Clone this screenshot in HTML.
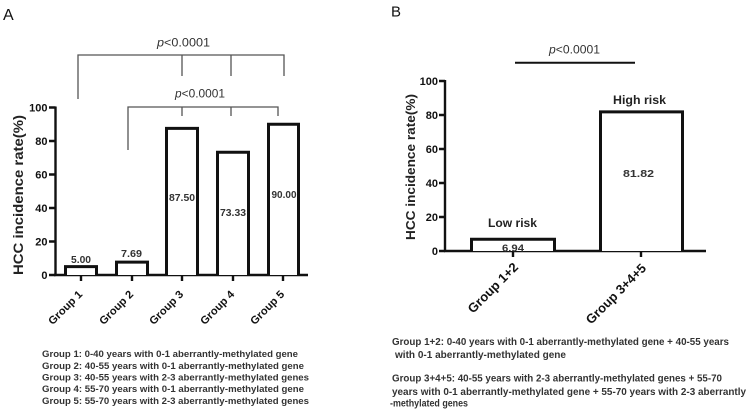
<!DOCTYPE html>
<html><head><meta charset="utf-8"><style>
html,body{margin:0;padding:0;background:#fff;}
svg{display:block;}
text{font-family:"Liberation Sans",Arial,sans-serif;}
</style></head><body>
<svg width="748" height="410" viewBox="0 0 748 410" xmlns="http://www.w3.org/2000/svg">
<rect width="748" height="410" fill="#fff"/>
<!-- Panel A -->
<text x="3" y="20" font-size="16" fill="#111">A</text>
<g stroke="#555" stroke-width="1.3" fill="none">
<path d="M78 99 V55 H284 V76"/>
<path d="M182 55 V76 M231 55 V76"/>
<path d="M128 150 V107 H278 V116"/>
<path d="M182 107 V116 M231 107 V116"/>
</g>
<text x="183.5" y="46.5" font-size="12" text-anchor="middle" fill="#333" textLength="53" lengthAdjust="spacingAndGlyphs"><tspan font-style="italic">p</tspan>&lt;0.0001</text>
<text x="200" y="97.5" font-size="12" text-anchor="middle" fill="#333" textLength="50" lengthAdjust="spacingAndGlyphs"><tspan font-style="italic">p</tspan>&lt;0.0001</text>
<text transform="translate(23,195) rotate(-90)" font-size="14" font-weight="bold" text-anchor="middle" fill="#222" textLength="160" lengthAdjust="spacingAndGlyphs">HCC incidence rate(%)</text>
<g stroke="#111" stroke-width="2.4" fill="none">
<path d="M55.5 106.5 V276 M54 275 H308"/>
<path d="M49 107.5 H55.5 M49 141 H55.5 M49 174.5 H55.5 M49 208 H55.5 M49 241.5 H55.5 M49 275 H55.5"/>
<path d="M81 275 V281 M132 275 V281 M182 275 V281 M233 275 V281 M283 275 V281"/>
</g>
<g font-size="11" font-weight="bold" text-anchor="end" fill="#111">
<text x="47.5" y="111.5">100</text>
<text x="47.5" y="145">80</text>
<text x="47.5" y="178.5">60</text>
<text x="47.5" y="212">40</text>
<text x="47.5" y="245.5">20</text>
<text x="47.5" y="279">0</text>
</g>
<g stroke="#111" stroke-width="3" fill="#fff">
<path d="M65.5 275 V266.6 H96.5 V275"/>
<path d="M116.5 275 V262.1 H147.5 V275"/>
<path d="M166.5 275 V128.4 H197.5 V275"/>
<path d="M217.5 275 V152.2 H248.5 V275"/>
<path d="M268.5 275 V124.3 H298.5 V275"/>
</g>
<g font-size="10" font-weight="bold" text-anchor="middle" fill="#333">
<text x="81" y="263" textLength="20" lengthAdjust="spacingAndGlyphs">5.00</text>
<text x="131.5" y="257" textLength="21" lengthAdjust="spacingAndGlyphs">7.69</text>
<text x="182" y="201" textLength="26" lengthAdjust="spacingAndGlyphs">87.50</text>
<text x="233" y="216" textLength="26" lengthAdjust="spacingAndGlyphs">73.33</text>
<text x="284" y="198" textLength="25" lengthAdjust="spacingAndGlyphs">90.00</text>
</g>
<g font-size="11" font-weight="bold" text-anchor="end" fill="#111">
<text transform="translate(83,295) rotate(-45)" textLength="43" lengthAdjust="spacingAndGlyphs">Group 1</text>
<text transform="translate(134,295) rotate(-45)" textLength="43" lengthAdjust="spacingAndGlyphs">Group 2</text>
<text transform="translate(184,295) rotate(-45)" textLength="43" lengthAdjust="spacingAndGlyphs">Group 3</text>
<text transform="translate(235,295) rotate(-45)" textLength="43" lengthAdjust="spacingAndGlyphs">Group 4</text>
<text transform="translate(285,295) rotate(-45)" textLength="43" lengthAdjust="spacingAndGlyphs">Group 5</text>
</g>
<g font-size="9.5" font-weight="bold" fill="#333">
<text x="42" y="357" textLength="256" lengthAdjust="spacingAndGlyphs">Group 1: 0-40 years with 0-1 aberrantly-methylated gene</text>
<text x="42" y="369" textLength="262" lengthAdjust="spacingAndGlyphs">Group 2: 40-55 years with 0-1 aberrantly-methylated gene</text>
<text x="42" y="380.5" textLength="267" lengthAdjust="spacingAndGlyphs">Group 3: 40-55 years with 2-3 aberrantly-methylated genes</text>
<text x="42" y="392" textLength="262" lengthAdjust="spacingAndGlyphs">Group 4: 55-70 years with 0-1 aberrantly-methylated gene</text>
<text x="42" y="404" textLength="267" lengthAdjust="spacingAndGlyphs">Group 5: 55-70 years with 2-3 aberrantly-methylated genes</text>
</g>

<!-- Panel B -->
<text x="391" y="16.5" font-size="15" fill="#111">B</text>
<path d="M515 62.7 H635" stroke="#111" stroke-width="2"/>
<text x="574.5" y="53.5" font-size="12" text-anchor="middle" fill="#333" textLength="51" lengthAdjust="spacingAndGlyphs"><tspan font-style="italic">p</tspan>&lt;0.0001</text>
<text transform="translate(415,167) rotate(-90)" font-size="13" font-weight="bold" text-anchor="middle" fill="#222" textLength="146" lengthAdjust="spacingAndGlyphs">HCC incidence rate(%)</text>
<g stroke="#111" stroke-width="2.4" fill="none">
<path d="M445 80 V252 M444 251 H706"/>
<path d="M439 81 H445 M439 115 H445 M439 149 H445 M439 183 H445 M439 217 H445 M439 251 H445"/>
<path d="M513 251 V257 M641 251 V257"/>
</g>
<g font-size="11" font-weight="bold" text-anchor="end" fill="#111">
<text x="438" y="85">100</text>
<text x="438" y="119">80</text>
<text x="438" y="153">60</text>
<text x="438" y="187">40</text>
<text x="438" y="221">20</text>
<text x="438" y="255">0</text>
</g>
<g stroke="#111" stroke-width="3" fill="#fff">
<path d="M471.5 251 V239.2 H554.5 V251"/>
<path d="M600.5 251 V111.9 H682.5 V251"/>
</g>
<g font-size="12" font-weight="bold" text-anchor="middle" fill="#222">
<text x="512.5" y="227" textLength="49" lengthAdjust="spacingAndGlyphs">Low risk</text>
<text x="639.5" y="104" textLength="53" lengthAdjust="spacingAndGlyphs">High risk</text>
</g>
<g font-size="10.5" font-weight="bold" text-anchor="middle" fill="#333">
<text x="638.5" y="177" textLength="31" lengthAdjust="spacingAndGlyphs">81.82</text>
<text x="513" y="251.5" textLength="22" lengthAdjust="spacingAndGlyphs">6.94</text>
</g>
<g font-size="13" font-weight="bold" text-anchor="end" fill="#111">
<text transform="translate(519,268) rotate(-45)" textLength="65" lengthAdjust="spacingAndGlyphs">Group 1+2</text>
<text transform="translate(647,269) rotate(-45)" textLength="79" lengthAdjust="spacingAndGlyphs">Group 3+4+5</text>
</g>
<g font-size="10" font-weight="bold" fill="#333">
<text x="392" y="345" textLength="337" lengthAdjust="spacingAndGlyphs">Group 1+2: 0-40 years with 0-1 aberrantly-methylated gene + 40-55 years</text>
<text x="395" y="358" textLength="171" lengthAdjust="spacingAndGlyphs">with 0-1 aberrantly-methylated gene</text>
<text x="392" y="381.5" textLength="330" lengthAdjust="spacingAndGlyphs">Group 3+4+5: 40-55 years with 2-3 aberrantly-methylated genes + 55-70</text>
<text x="392" y="395" textLength="354" lengthAdjust="spacingAndGlyphs">years with 0-1 aberrantly-methylated gene + 55-70 years with 2-3 aberrantly</text>
<text x="390" y="406.5" textLength="78" lengthAdjust="spacingAndGlyphs">-methylated genes</text>
</g>
</svg>
</body></html>
